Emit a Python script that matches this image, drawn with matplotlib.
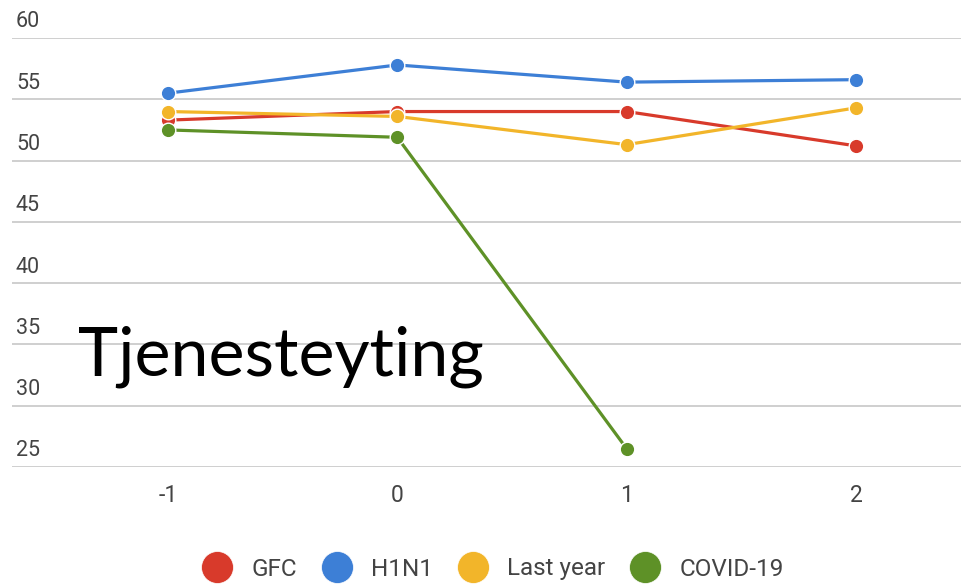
import numpy as np
import matplotlib
matplotlib.use("Agg")
import matplotlib.pyplot as plt
from matplotlib.lines import Line2D

# data
periods = [-1, 0, 1, 2]
gfc = [53.3, 54.0, 54.0, 51.2]
h1n1 = [55.5, 57.8, 56.4, 56.6]
last_year = [54.0, 53.6, 51.3, 54.3]
covid = [52.5, 51.9, 26.5, np.nan]
yticks = [25, 30, 35, 40, 45, 50, 55, 60]

series = [
    ("GFC", gfc, "#d83a2b"),
    ("H1N1", h1n1, "#3d7fd6"),
    ("Last year", last_year, "#f2b52a"),
    ("COVID-19", covid, "#5e9127"),
]

plt.rcParams["font.family"] = ["Roboto", "DejaVu Sans"]

fig = plt.figure(figsize=(9.61, 5.84), dpi=100)
ax = fig.add_axes([12 / 961, 1 - 467 / 584, 1 - 12 / 961, 429 / 584])

for label, vals, color in series:
    ax.plot(periods, vals, color=color, linewidth=2.3, marker="o",
            markersize=10.5, markeredgecolor="white", markeredgewidth=1.0,
            label=label, zorder=3)

ax.set_ylim(25, 60)
ax.set_xlim(-1.68, 2.458)
ax.set_yticks(yticks)
ax.yaxis.grid(True, color="#cfcfcf", linewidth=1.4)
ax.set_axisbelow(True)
ax.tick_params(axis="y", length=0, labelleft=False)
ax.tick_params(axis="x", length=0, labelsize=16.5, labelcolor="#444444", pad=12)
ax.set_xticks(periods)
ax.set_xticklabels([str(p) for p in periods])
for s in ax.spines.values():
    s.set_visible(False)

# y labels sit above their grid lines at the left edge
for v in yticks:
    ax.text(4 / 961, v + 0.45, str(v), transform=ax.get_yaxis_transform(),
            ha="left", va="bottom", fontsize=15.5, color="#444444")

ax.text(78 / 961, 1 - 375 / 584, "Tjenesteyting", transform=fig.transFigure,
        fontsize=49, family=["Lato", "DejaVu Sans"], color="black",
        ha="left", va="baseline")

handles = [Line2D([], [], linestyle="none", marker="o", markersize=23,
                  markerfacecolor=c, markeredgecolor="white", markeredgewidth=0.5)
           for _, _, c in series]
leg = fig.legend(handles, [s[0] for s in series], loc="center",
                 bbox_to_anchor=(492 / 961, 1 - 569 / 584), ncol=4,
                 frameon=False, fontsize=17.5, handletextpad=0.7,
                 columnspacing=0.95, handlelength=1.4, borderpad=0)
for t in leg.get_texts():
    t.set_color("#444444")

fig.savefig("out.png", dpi=100)
